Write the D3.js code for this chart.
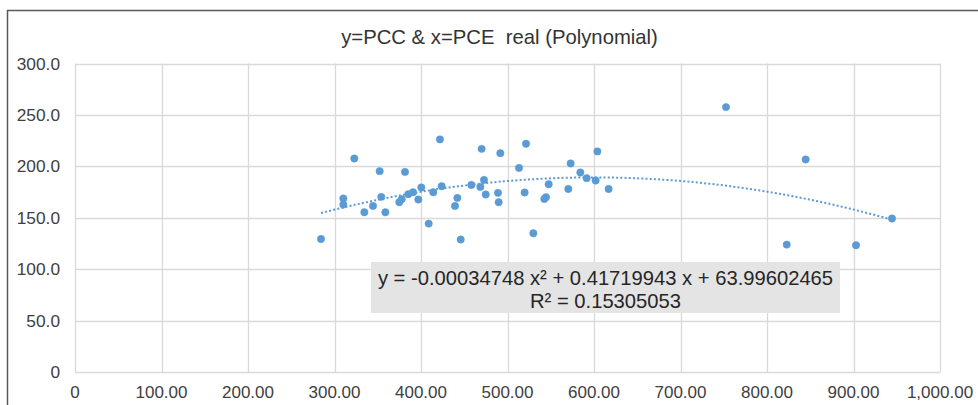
<!DOCTYPE html>
<html>
<head>
<meta charset="utf-8">
<script src="https://cdn.jsdelivr.net/npm/d3@7"></script>
<style>
  html, body { margin: 0; padding: 0; background: #fff; }
  svg { display: block; font-family: "Liberation Sans", Arial, sans-serif; }
  text { white-space: pre; }
</style>
</head>
<body>
<svg id="chart" width="978" height="405"></svg>
<script>
// ---- data ----
const title = "y=PCC & x=PCE  real (Polynomial)";
const pceX = [284.4, 322.9, 310.2, 310.2, 334.5, 344.5, 352.2, 354.1, 358.8, 381.5,
              374.9, 377.7, 385.3, 390.8, 400.4, 396.9, 421.9, 408.9, 414.2, 423.9,
              442.0, 439.3, 445.9, 458.2, 470.1, 472.8, 468.6, 474.8, 491.7, 489.0,
              489.8, 521.4, 513.3, 519.8, 529.9, 542.6, 544.5, 547.6, 573.0, 570.3,
              584.2, 591.5, 603.9, 601.9, 616.9, 752.6, 844.7, 822.8, 902.9, 944.5];
const pccY = [129.3, 207.6, 168.7, 162.8, 155.3, 161.5, 195.3, 170.3, 155.3, 194.6,
              165.1, 168.0, 172.9, 174.8, 179.4, 167.7, 226.2, 144.3, 174.8, 180.7,
              169.3, 161.5, 128.8, 181.9, 217.0, 186.8, 180.0, 172.6, 212.8, 174.2,
              165.1, 221.9, 198.5, 174.5, 134.9, 168.3, 170.0, 182.6, 202.8, 178.0,
              194.0, 188.5, 214.5, 186.2, 178.0, 257.6, 206.7, 123.9, 123.2, 149.2];
const polyCoef = [-0.00034748, 0.41719943, 63.99602465]; // a x^2 + b x + c
const eqLine1 = "y = -0.00034748 x\u00B2 + 0.41719943 x + 63.99602465";
const eqLine2 = "R\u00B2 = 0.15305053";
const xTicks = [0, 100, 200, 300, 400, 500, 600, 700, 800, 900, 1000];
const xTickLabels = ["0", "100.00", "200.00", "300.00", "400.00", "500.00", "600.00", "700.00", "800.00", "900.00", "1,000.00"];
const yTicks = [0, 50, 100, 150, 200, 250, 300];
const yTickLabels = ["0", "50.0", "100.0", "150.0", "200.0", "250.0", "300.0"];

// ---- layout ----
const svg = d3.select("#chart");
const plot = { left: 75, right: 940, top: 63.5, bottom: 372 };
const x = d3.scaleLinear().domain([0, 1000]).range([plot.left, plot.right]);
const y = d3.scaleLinear().domain([0, 300]).range([plot.bottom, plot.top]);
const blue = "#5B9BD5";

// outer chart border (top + left visible)
svg.append("line").attr("x1", 7).attr("x2", 978).attr("y1", 10.5).attr("y2", 10.5)
  .attr("stroke", "#595959").attr("stroke-width", 1.5);
svg.append("line").attr("x1", 7.5).attr("x2", 7.5).attr("y1", 10).attr("y2", 405)
  .attr("stroke", "#595959").attr("stroke-width", 1.5);

// title
svg.append("text").attr("x", 499.5).attr("y", 44).attr("text-anchor", "middle")
  .attr("font-size", 20.3).attr("fill", "#333333").text(title);

// gridlines
const grid = svg.append("g");
grid.selectAll("line.h").data(yTicks).enter().append("line")
  .attr("x1", plot.left).attr("x2", plot.right)
  .attr("y1", d => Math.round(y(d)) + 0.5).attr("y2", d => Math.round(y(d)) + 0.5)
  .attr("stroke", "#d9d9d9").attr("stroke-width", 1.3);
grid.selectAll("line.v").data(xTicks).enter().append("line")
  .attr("y1", plot.top).attr("y2", plot.bottom)
  .attr("x1", d => Math.round(x(d)) + 0.5).attr("x2", d => Math.round(x(d)) + 0.5)
  .attr("stroke", "#d9d9d9").attr("stroke-width", 1.3);

// axis labels
svg.append("g").selectAll("text").data(yTicks).enter().append("text")
  .attr("x", 60).attr("y", d => y(d)).attr("dy", "0.35em")
  .attr("text-anchor", "end").attr("font-size", 17.3).attr("fill", "#404040")
  .text((d, i) => yTickLabels[i]);
svg.append("g").selectAll("text").data(xTicks).enter().append("text")
  .attr("x", d => x(d)).attr("y", 392).attr("dy", "0.35em")
  .attr("text-anchor", "middle").attr("font-size", 17).attr("fill", "#404040")
  .text((d, i) => xTickLabels[i]);

// trendline
const xmin = d3.min(pceX), xmax = d3.max(pceX);
const trendX = d3.range(0, 101).map(i => xmin + (xmax - xmin) * i / 100);
const poly = v => polyCoef[0] * v * v + polyCoef[1] * v + polyCoef[2];
svg.append("path")
  .attr("d", d3.line().x(d => x(d)).y(d => y(poly(d)))(trendX))
  .attr("fill", "none").attr("stroke", blue).attr("stroke-width", 2)
  .attr("stroke-dasharray", "2,2.2");

// points
svg.append("g").selectAll("circle").data(pceX).enter().append("circle")
  .attr("cx", d => x(d)).attr("cy", (d, i) => y(pccY[i]))
  .attr("r", 3.7).attr("fill", blue).attr("stroke", blue).attr("stroke-width", 0.5);

// equation box
const eq = svg.append("g");
eq.append("rect").attr("x", 371).attr("y", 262).attr("width", 469).attr("height", 51)
  .attr("fill", "#e4e4e4");
eq.append("text").attr("x", 605.5).attr("y", 284.5).attr("text-anchor", "middle")
  .attr("font-size", 20.2).attr("fill", "#262626").text(eqLine1);
eq.append("text").attr("x", 605.5).attr("y", 307.5).attr("text-anchor", "middle")
  .attr("font-size", 20.2).attr("fill", "#262626").text(eqLine2);
</script>
</body>
</html>
